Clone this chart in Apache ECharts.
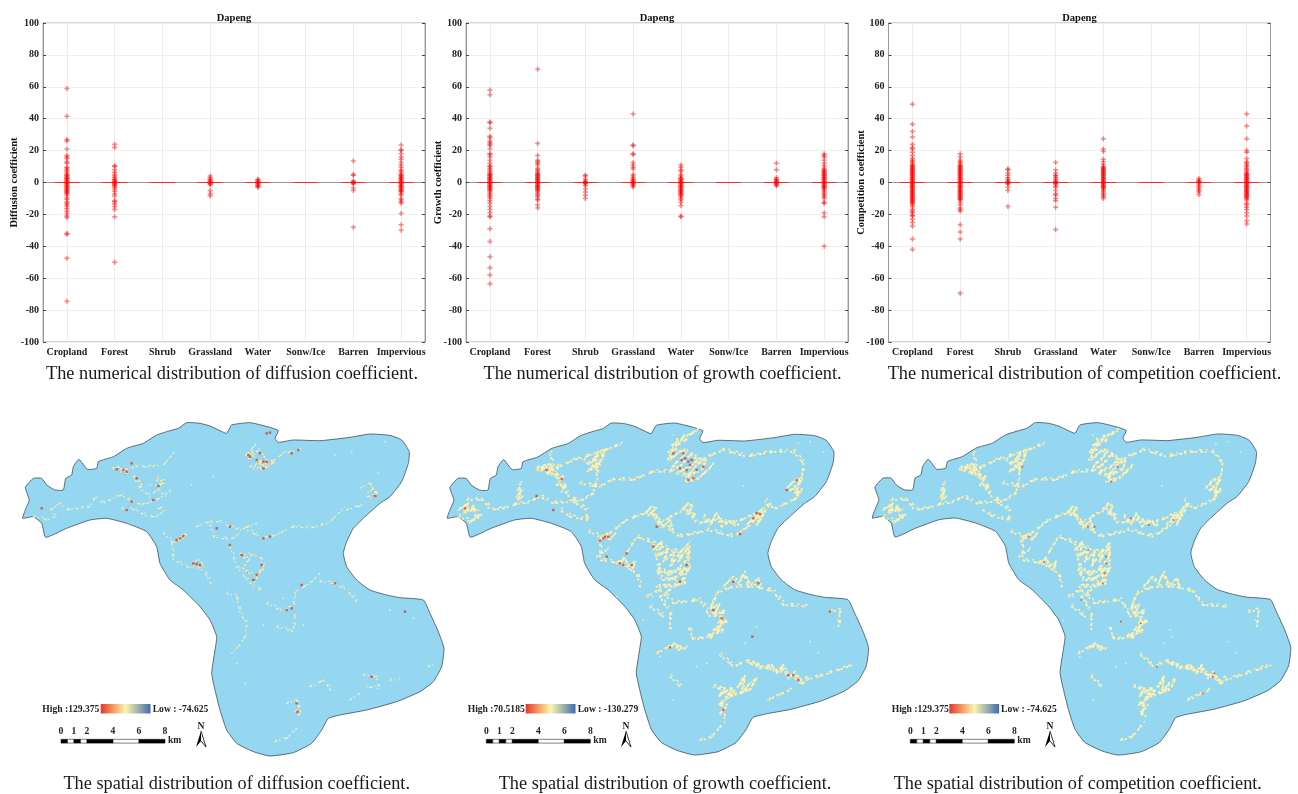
<!DOCTYPE html>
<html><head><meta charset="utf-8">
<script src="https://cdn.jsdelivr.net/npm/echarts@6/dist/echarts.min.js"></script>
<style>html,body{margin:0;padding:0;background:#fff}#c{width:1298px;height:794px;filter:blur(.4px)}</style>
</head><body><div id="c"></div>
<script>
const landCovers=['Cropland','Forest','Shrub','Grassland','Water','Sonw/Ice','Barren','Impervious'];
const yTicks={min:-100,max:100,interval:20};

const diffusionValues=[
 [59,41.5,27,26,21,17,16,15,13,12,9.5,9,8,7,6,5,4.5,4,3.5,3,2.5,2,1.5,1,.5,0,-.5,-1,-1.5,-2,-2.5,-3,-3.5,-4,-4.5,-5,-5.5,-6,-6.5,-7,-8,-9.5,-10.5,-12,-13,-14,-15,-16.5,-18,-19.5,-21,-22,-32,-32.5,-47.5,-74.5],
 [24,22,10.5,10,8,6.5,5,4,3,2,1.5,1,.5,0,-.5,-1,-1.5,-2,-3,-4,-5.5,-7,-8.5,-11.5,-12,-13.5,-15,-17,-21.5,-50],
 [],
 [4,3,2,1.5,1,.5,0,-.5,-1,-1.5,-5,-7,-8.5],
 [2,1.5,1,.5,0,-.5,-1,-1.5,-2,-2.5,-3],
 [],
 [13.5,5,4.5,1,.5,0,-.5,-1,-3.5,-5,-28],
 [23.5,20.5,20,18,16,14.5,12.5,11,9.5,8,7,6,5,4.5,4,3.5,3,2.5,2,1.5,1,.5,0,-.5,-1,-1.5,-2,-2.5,-3,-3.5,-4,-4.5,-5,-5.5,-6,-7,-8,-10,-11,-12,-13,-19.5,-26.5,-30]
];
const growthValues=[
 [58,55,38,37.5,34,29,28,26,25,24,23,21,18,17.5,16,14,12,10.5,10,9,8,7,6,5.5,5,4.5,4,3.5,3,2.5,2,1.5,1,.5,0,-.5,-1,-1.5,-2,-2.5,-3,-3.5,-4,-4.5,-5,-6,-7,-8,-9,-10,-11.5,-13,-15,-17,-19,-21,-21.5,-29,-37,-46.5,-53.5,-58,-63.5],
 [71,24.5,17,14,13,12,11,9,8,7,6,5.5,5,4.5,4,3.5,3,2.5,2,1.5,1,.5,0,-.5,-1,-1.5,-2,-2.5,-3,-3.5,-4,-4.5,-5,-6,-7,-8,-9,-10.5,-11,-14,-16],
 [4.5,4,2,1,.5,0,-.5,-1,-2,-4,-6,-8,-10],
 [43,23.5,23,18,17.5,12.5,11,9.5,8.5,5,4,3,2,1.5,1,.5,0,-.5,-1,-1.5,-2,-3],
 [11,9.5,8,7,5,4,3,2.5,2,1.5,1,.5,0,-.5,-1,-1.5,-2,-2.5,-3,-3.5,-4,-4.5,-5,-5.5,-6,-6.5,-7,-7.5,-8,-9,-10,-11,-12.5,-14.5,-21,-21.5],
 [],
 [12,8,3,2,1.5,1,.5,0,-.5,-1,-1.5,-2],
 [18,17,16,14,12,10.5,9,8,7.5,7,6.5,6,5.5,5,4.5,4,3.5,3,2.5,2,1.5,1,.5,0,-.5,-1,-1.5,-2,-2.5,-3,-3.5,-4,-5,-6,-7,-8,-9,-10,-12.5,-13,-19,-21.5,-40]
];
const competitionValues=[
 [49,36.5,32,28.5,24,22,21,19,17,15,14,13,12,11,10.5,10,9.5,9,8.5,8,7.5,7,6.5,6,5.5,5,4.5,4,3.5,3,2.5,2,1.5,1,.5,0,-.5,-1,-1.5,-2,-2.5,-3,-3.5,-4,-4.5,-5,-5.5,-6,-6.5,-7,-7.5,-8,-8.5,-9,-9.5,-10,-10.5,-11,-11.5,-12,-12.5,-13,-14,-15,-17,-18,-19,-20.5,-21,-23,-25,-27.5,-35.5,-42],
 [18,16,14,13,12,11,10.5,10,9.5,9,8.5,8,7.5,7,6.5,6,5.5,5,4.5,4,3.5,3,2.5,2,1.5,1,.5,0,-.5,-1,-1.5,-2,-2.5,-3,-3.5,-4,-4.5,-5,-5.5,-6,-6.5,-7,-7.5,-8,-8.5,-9,-9.5,-10,-10.5,-11,-12.5,-14,-16,-17,-18,-26.5,-31,-35.5,-69.5],
 [8.5,8,6,4.5,3,2,1,.5,0,-.5,-1,-3,-5,-15],
 [12.5,8,6,4.5,4,3,2,1,.5,0,-.5,-1,-2,-3,-5,-7,-8,-10,-11.5,-15.5,-29.5],
 [27.5,21,19.5,14.5,13,11.5,10,9.5,9,8.5,8,7.5,7,6.5,6,5.5,5,4.5,4,3.5,3,2.5,2,1.5,1,.5,0,-.5,-1,-1.5,-2,-2.5,-3,-3.5,-4,-5,-6,-7,-8,-9,-10],
 [],
 [2.5,1.5,1,.5,0,-1,-2,-3,-4,-5,-6,-7.5],
 [43,35.5,27.5,20,19,15,13,12,11,10,9,8,7,6,5.5,5,4.5,4,3.5,3,2.5,2,1.5,1,.5,0,-.5,-1,-1.5,-2,-2.5,-3,-3.5,-4,-4.5,-5,-5.5,-6,-6.5,-7,-7.5,-8,-8.5,-9,-9.5,-10,-11,-13,-14,-15.5,-17,-19,-21,-24,-26]
];
const medians=[0,0,0,0,0,0,0,0];
const yNames=['Diffusion coefficient','Growth coefficient','Competition coefficient'];
const plotTitle='Dapeng';
const numericCaptions=['The numerical distribution of diffusion coefficient.','The numerical distribution of growth coefficient.','The numerical distribution of competition coefficient.'];
const spatialCaptions=['The spatial distribution of diffusion coefficient.','The spatial distribution of growth coefficient.','The spatial distribution of competition coefficient.'];
const highLabels=['High :129.375','High :70.5185','High :129.375'];
const lowLabels=['Low : -74.625','Low : -130.279','Low : -74.625'];
const scaleLabels=[0,1,2,4,6,8];
const scaleBreaks=[0,.5,1,1.5,2,4,6,8];

const coastline=[[68,325],[74,305],[80,290],[88,270],[76,232],[100,205],[125,205],[140,225],[165,240],[190,240],[197,205],[215,195],[220,170],[237,148],[262,178],[290,175],[295,155],[340,140],[380,115],[395,110],[430,100],[470,75],[510,62],[535,55],[560,38],[600,40],[630,48],[660,62],[680,70],[695,45],[750,38],[810,52],[835,62],[825,85],[835,97],[880,90],[960,92],[1050,82],[1110,72],[1170,76],[1205,90],[1228,125],[1225,160],[1205,215],[1170,260],[1140,280],[1090,325],[1060,355],[1040,395],[1030,430],[1040,470],[1070,510],[1110,540],[1160,555],[1200,563],[1270,570],[1290,610],[1315,665],[1332,715],[1325,770],[1300,815],[1260,845],[1190,875],[1100,900],[1020,915],[985,925],[965,960],[935,1000],[880,1028],[810,1038],[760,1025],[710,1000],[680,960],[660,900],[645,840],[635,790],[645,720],[650,680],[630,630],[600,590],[550,540],[510,510],[480,460],[470,410],[440,365],[380,340],[320,325],[270,330],[200,355],[137,382],[125,340],[100,320]];

const diffusionTrails=[
[[100,320],[140,330],[165,320],[150,300],[180,280],[200,300],[235,295],[270,290],[285,260],[310,280],[340,265],[365,255],[395,275],[430,285],[470,270],[515,240]],
[[335,178],[375,180],[410,170],[450,170],[490,165],[520,130]],[[400,200],[420,235],[450,260],[470,240],[500,260]],[[470,210],[490,225],[450,225]],
[[365,295],[410,300],[440,320],[470,320],[495,300],[475,295]],[[590,350],[630,335],[660,335],[690,350],[720,360],[770,340]],
[[730,355],[790,385],[830,375],[880,350],[930,355],[985,340],[1030,295]],[[1040,300],[1090,285]],[[630,345],[640,380],[690,390],[720,370]],
[[490,370],[520,400],[550,375]],[[515,400],[520,450],[560,470],[610,480],[635,525]],[[690,410],[710,470],[750,520],[780,540]],[[720,430],[780,440],[790,480]],
[[680,550],[710,560],[720,610],[740,640],[735,680],[715,710],[695,730]],[[800,580],[840,600],[880,590],[885,545],[930,520],[960,490]],
[[960,515],[1000,520],[1040,540],[1070,575]],[[830,650],[880,665],[885,610]],[[1080,235],[1110,220],[1130,255],[1100,260]],[[825,995],[860,985],[895,950]],
[[860,880],[890,870],[900,920]],[[1090,795],[1130,800],[1135,835],[1100,830]],[[1170,810],[1195,810]],[[1050,870],[1080,850]],[[930,830],[945,825],[970,810],[1000,850]],
[[735,140],[770,100]],[[750,170],[810,160],[850,130],[900,120]],[[740,130],[800,175]],[[1285,770],[1300,765]]
];
const diffusionPatches=[
[[335,178],[350,172],[365,188],[385,175],[375,195]],[[735,140],[755,125],[745,150],[775,120],[790,145],[765,165],[800,150],[820,160],[790,178],[760,175]],
[[1100,250],[1115,240],[1130,258],[1110,265]],[[530,395],[545,375],[558,380],[540,392]],[[575,460],[590,452],[610,470],[590,475]],[[885,880],[897,890],[885,905],[900,920]],
[[400,205],[415,215],[425,240]],[[470,205],[490,215],[475,235]],[[720,435],[745,450],[725,480],[770,500],[790,465],[760,520]]
];
const diffusionSpots=[[800,70],[810,68],[745,135],[780,130],[790,155],[800,155],[770,150],[790,175],[875,130],[895,120],[370,180],[350,178],[380,185],[395,160],[410,205],[460,270],[475,228],[380,300],[395,275],[125,295],[540,385],[550,378],[530,390],[580,460],[600,465],[590,462],[690,350],[790,385],[810,380],[690,405],[725,435],[785,465],[770,495],[760,510],[1005,520],[860,600],[875,595],[905,525],[890,880],[893,905],[1115,800],[1125,258],[1215,605],[650,355],[750,140]];
const diffusionSpecks=[[575,225],[640,200],[1055,125],[1005,135],[1155,95],[1135,190],[735,820],[850,565],[1170,600],[1240,625],[710,760],[990,840],[910,645],[790,645]];

// growth and competition maps mark the same land cells, read on the growth map's frame
const sharedTrails=[
[[55,320],[90,335],[120,320],[100,290],[75,300]],[[80,270],[130,270],[150,300],[190,295],[240,280],[260,280],[300,260],[340,280],[400,275],[440,300],[440,330],[390,320],[360,300]],
[[240,220],[235,270]],[[480,230],[520,208],[580,210],[640,185],[690,185]],[[290,180],[340,180],[360,220],[390,265],[420,275],[460,250],[470,200],[470,130]],
[[330,130],[340,180],[400,150],[470,130],[550,100]],[[420,220],[470,230]],[[780,150],[850,120],[920,140],[1000,125],[1060,125]],
[[1060,125],[1090,160],[1085,200],[1070,230],[1070,265],[1010,295],[980,285],[975,270]],[[445,365],[490,385],[560,330],[630,305],[660,340],[710,310],[740,300],[770,340],[830,330],[880,340],[950,310],[985,285]],
[[480,390],[480,450],[540,460],[590,380],[640,400],[720,430],[745,400],[745,480],[720,520]],[[640,400],[655,470],[690,500],[720,520],[660,560],[690,610],[690,660]],
[[540,460],[590,490],[600,530]],[[800,360],[880,380],[940,340]],[[660,340],[720,380],[790,365]],[[830,550],[880,530],[950,530],[1000,545],[1030,585],[1100,590]],
[[830,550],[810,600],[850,640],[810,680],[760,690],[745,650]],[[650,730],[690,710],[730,715]],[[840,735],[880,770],[920,755],[980,775],[1040,790],[1090,820]],
[[1100,810],[1150,795],[1240,765]],[[690,800],[720,830]],[[985,870],[1050,840]],[[780,990],[810,985],[850,940]],[[1170,605],[1200,600],[1195,650]],
[[620,560],[660,540],[700,580],[780,570],[810,620]],[[500,420],[470,440]],[[630,590],[670,620]]
];
const sharedPatches=[
[[770,62],[745,78],[725,82],[735,95],[705,92],[715,110],[695,105],[705,125],[685,125],[695,145],[680,150]],
[[690,150],[720,125],[740,122],[725,145],[700,165],[690,185],[720,170],[750,135],[775,150],[745,175],[710,190],[740,200],[770,165],[795,150],[785,180],[750,195],[735,215],[770,210],[810,175],[815,165]],
[[290,175],[310,170],[300,185],[325,165],[335,185],[315,190],[345,195],[350,170]],[[345,200],[365,205],[350,225],[375,230],[365,245]],
[[430,150],[450,165],[470,130],[455,175],[485,150],[490,120],[475,170],[440,185]],[[1040,235],[1060,215],[1085,205],[1075,225],[1050,240],[1070,250],[1085,240],[1065,265]],
[[615,310],[630,295],[645,300],[625,315],[645,320]],[[725,300],[740,285],[755,295],[740,310],[765,320]],[[920,345],[945,320],[935,340],[965,305],[950,345],[985,285]],
[[640,420],[660,400],[655,440],[680,420],[670,455],[700,430],[690,470],[725,420],[715,455],[745,410],[740,450],[710,480],[745,480],[680,490],[650,480],[665,510],[700,510],[720,490],[735,520],[690,530],[650,530]],
[[820,570],[810,600],[835,585],[820,620],[850,605],[835,640],[860,635],[820,660],[845,665],[800,680],[825,685]],
[[850,530],[875,505],[895,520],[910,490],[925,530],[950,510],[960,535]],
[[820,830],[850,840],[835,860],[875,835],[850,875],[895,830],[910,800],[905,850],[925,825],[945,810],[930,840],[870,860],[835,885],[860,890],[840,910],[855,925]],
[[920,755],[960,775],[990,770],[1010,790],[1025,770],[1045,805],[1060,790],[1085,825],[1095,805]],
[[530,460],[550,450],[560,470],[580,460],[575,480]],[[475,395],[495,375],[510,390],[525,370]],[[55,300],[80,285],[70,310],[100,300],[110,325],[85,340]],[[680,715],[700,705],[715,720],[735,715]],
[[790,320],[810,345],[825,315],[845,350],[870,335],[890,350]],[[645,325],[665,355],[685,335],[695,365]],[[232,240],[242,245],[228,262],[245,265]]
];
const growthSpots=[[365,207],[340,300],[75,295],[490,385],[505,380],[500,440],[540,460],[575,465],[560,430],[730,130],[745,155],[700,130],[740,180],[790,170],[745,210],[760,205],[1070,210],[950,310],[960,312],[940,325],[900,372],[650,350],[740,465],[690,712],[937,680],[1170,605],[1060,795],[1075,810],[850,900],[720,515],[880,515],[955,520],[820,600],[640,410],[290,258],[725,150],[755,150],[770,180],[720,175],[320,180],[495,380],[480,392],[550,465],[735,145],[750,165],[845,625],[1045,795],[1040,240]];
const growthSpecks=[[910,228],[1135,728],[1110,695],[700,75],[1075,100],[1110,95],[1150,125],[610,630],[770,770],[700,870],[640,560],[950,650],[1000,860],[915,700],[1195,630],[250,240],[530,560],[660,740],[800,760]];
const competitionSpots=[[480,170],[680,350],[735,440],[730,490],[725,520],[810,325],[865,345],[940,330],[660,570],[890,770],[1030,850],[780,635],[500,380],[770,170],[750,215],[680,420],[1065,790],[545,455],[700,350],[735,460],[1060,800],[840,640]];
const competitionSpecks=[[905,228],[1130,728],[1105,695],[695,75],[1070,100],[1105,95],[1145,125],[605,630],[765,770],[695,870],[635,560],[935,680],[995,860],[910,700],[1190,630],[245,240],[525,560],[655,740],[795,760],[930,660]];

const valueSets=[diffusionValues,growthValues,competitionValues];
const trailSets=[diffusionTrails,sharedTrails,sharedTrails];
const patchSets=[diffusionPatches,sharedPatches,sharedPatches];
const spotSets=[diffusionSpots,growthSpots,competitionSpots];
const speckSets=[diffusionSpecks,growthSpecks,competitionSpecks];

const plotLeft=[43,466,888.5],plotWidth=382,plotTop=23,plotHeight=319;
const coastGrid=[{left:0,top:410,width:450,height:384},{left:424.6,top:410.4,width:450,height:382.5},{left:849.8,top:410,width:447,height:383}];
const speckGrid=[{left:0,top:410,width:450,height:384},{left:440,top:410,width:440,height:384},{left:865,top:410,width:437.2,height:384}];
const speckOffset=[{left:1.3,top:-1.4},{left:1.6,top:-1.8},{left:1.6,top:-1.8}];
const speckRange=[[1350,1152],[1320,1152],[1320,1152]];
const nameGaps=[23,22,21.5];
const serifBold='bold 9.6px "Liberation Serif"';
const cross='path://M35,0H65V35H100V65H65V100H35V65H0V35H35Z';

const grid=[],xAxis=[],yAxis=[],series=[],title=[],graphic=[];
const labelStyle={fontFamily:'Liberation Serif',fontWeight:'bold',fontSize:10,color:'#222'};
for(let i=0;i<3;i++){
  grid.push({left:plotLeft[i],top:plotTop,width:plotWidth,height:plotHeight,show:true,borderColor:'#a8a8a8',borderWidth:1,backgroundColor:'#fff'});
  xAxis.push({type:'category',gridIndex:i,data:landCovers,position:'bottom',
    axisLine:{lineStyle:{color:'#999'}},axisTick:{alignWithLabel:true,inside:true,length:3,lineStyle:{color:'#444'}},
    axisLabel:{...labelStyle,interval:0,margin:5,hideOverlap:false},
    splitLine:{show:true,alignWithLabel:true,interval:0,lineStyle:{color:'#ececec',width:1}}});
  yAxis.push({type:'value',gridIndex:i,...yTicks,position:'left',
    axisLine:{show:true,lineStyle:{color:'#999'}},axisTick:{show:true,inside:true,length:3,lineStyle:{color:'#444'}},
    axisLabel:{...labelStyle,margin:4},splitLine:{show:true,lineStyle:{color:'#efefef',width:1}},
    name:yNames[i],nameLocation:'middle',nameRotate:90,nameGap:nameGaps[i],nameMoveOverlap:false,
    nameTextStyle:{fontFamily:'Liberation Serif',fontWeight:'bold',fontSize:10.5,color:'#111'}});
}
for(let i=0;i<3;i++){
  xAxis.push({type:'category',gridIndex:i,data:landCovers,position:'top',
    axisLine:{show:true,lineStyle:{color:'#999'}},axisTick:{alignWithLabel:true,inside:true,length:3,lineStyle:{color:'#444'}},axisLabel:{show:false},splitLine:{show:false},
    name:plotTitle,nameLocation:'middle',nameGap:-1,nameMoveOverlap:false,nameTextStyle:{fontFamily:'Liberation Serif',fontWeight:'bold',fontSize:10.5,color:'#111'}});
  yAxis.push({type:'value',gridIndex:i,...yTicks,position:'right',
    axisLine:{show:true,lineStyle:{color:'#999'}},axisTick:{show:true,inside:true,length:3,lineStyle:{color:'#444'}},axisLabel:{show:false},splitLine:{show:false}});
}
function mapAxes(g,range){
  const idx=grid.length;grid.push(g);
  xAxis.push({type:'value',gridIndex:idx,min:0,max:range[0],show:false});
  yAxis.push({type:'value',gridIndex:idx,min:0,max:range[1],inverse:true,show:false});
}
coastGrid.forEach(g=>mapAxes(g,[1350,1152]));
speckGrid.forEach((g,i)=>mapAxes(g,speckRange[i]));
speckGrid.forEach((g,i)=>mapAxes({...g,left:g.left+speckOffset[i].left,top:g.top+speckOffset[i].top},speckRange[i]));

for(let i=0;i<3;i++){
  const pts=[];valueSets[i].forEach((vals,c)=>vals.forEach(v=>pts.push([c,v])));
  series.push({type:'boxplot',xAxisIndex:i,yAxisIndex:i,silent:true,boxWidth:[24,24],
    itemStyle:{color:'rgba(0,0,0,0)',borderColor:'rgba(255,40,40,.8)',borderWidth:1},
    data:medians.map(m=>[m,m,m,m,m])});
  series.push({type:'scatter',xAxisIndex:i,yAxisIndex:i,silent:true,symbol:cross,symbolSize:5,
    itemStyle:{color:'rgba(255,0,0,.6)'},data:pts,z:3});
}
for(let i=0;i<3;i++){
  series.push({type:'custom',xAxisIndex:6+i,yAxisIndex:6+i,silent:true,clip:false,data:coastline,
    encode:{x:0,y:1},
    renderItem(p,api){
      if(p.dataIndex!==0)return null;
      return {type:'polygon',shape:{points:coastline.map(c=>api.coord(c)),smooth:.15},
        style:{fill:'#95d7f1',stroke:'#2b3a40',lineWidth:.7}};
    }});
  const ax=9+i,ax2=12+i;
  const toLines=a=>a.map(c=>({coords:c}));
  const lineSeries=(data,lineStyle,z,axis)=>({type:'lines',coordinateSystem:'cartesian2d',xAxisIndex:axis,yAxisIndex:axis,polyline:true,silent:true,z,data:toLines(data),lineStyle:{opacity:1,cap:'round',join:'round',...lineStyle}});
  const w=i===0?1.2:2;
  series.push(lineSeries(patchSets[i],{color:'#faf2b4',width:w,type:[1.2,3.4,2.2,4.6,.6,2.8]},3,ax));
  series.push(lineSeries(patchSets[i],{color:'#faf2b4',width:w,type:[.6,5,1.4,2.6,2.4,3.6]},3,ax2));
  series.push(lineSeries(trailSets[i],{color:'#faf2b4',width:w,type:[1.5,3.2,.5,5.6,2.5,2.4,.8,4.4]},3,ax));
  series.push(lineSeries(trailSets[i],{color:'#faf2b4',width:i===0?.9:1.5,type:[.5,7,1.6,4,.4,9,2,5]},3,ax2));
  if(i>0)series.push(lineSeries(trailSets[i].concat(patchSets[i]),{color:i===1?'#ef9a5e':'#f3b878',width:1.3,type:[.6,11,.6,7],cap:'butt'},4,ax));
  else series.push(lineSeries(patchSets[i],{color:'#e8734a',width:1.3,type:[.8,6],cap:'butt'},4,ax));
  series.push({type:'scatter',xAxisIndex:ax,yAxisIndex:ax,silent:true,z:4,symbol:'rect',symbolSize:1.6,itemStyle:{color:'#faf2b4'},data:speckSets[i]});
  series.push({type:'scatter',xAxisIndex:ax,yAxisIndex:ax,silent:true,z:5,symbol:'rect',symbolSize:i===2?1.7:2.4,itemStyle:{color:'#d4402c'},data:spotSets[i]});
}

const capTop=[[232,374],[662.5,374],[1084.5,374]],capBot=[[236.7,784],[665,784],[1077.8,784]];
function cap(t,p){title.push({text:t,left:p[0],top:p[1],textAlign:'center',textVerticalAlign:'middle',padding:0,
  textStyle:{fontFamily:'Liberation Serif',fontWeight:'normal',fontSize:18.3,color:'#1a1a1a'}});}
numericCaptions.forEach((t,i)=>cap(t,capTop[i]));
spatialCaptions.forEach((t,i)=>cap(t,capBot[i]));

const legendX=[100.7,525.7,949.3],highX=[42.3,467.7,891.7],lowX=[152.7,577.7,1001],barX=[61,486.3,910.3],arrowX=[201,626,1050];
const txt=(text,x,y,align)=>({type:'text',style:{text,x,y,align:align||'left',verticalAlign:'middle',font:serifBold,fill:'#222'},silent:true});
for(let i=0;i<3;i++){
  graphic.push({type:'rect',shape:{x:legendX[i],y:704,width:49.8,height:9.5},silent:true,
    style:{fill:new echarts.graphic.LinearGradient(0,0,1,0,[{offset:0,color:'#e2382b'},{offset:.28,color:'#f8a56a'},{offset:.5,color:'#fbf5b2'},{offset:.72,color:'#a9bda8'},{offset:1,color:'#3f6cb2'}])}});
  graphic.push(txt(highLabels[i],highX[i],709.5));
  graphic.push(txt(lowLabels[i],lowX[i],709.5));
  const unit=13;
  for(let s=0;s<scaleBreaks.length-1;s++){
    graphic.push({type:'rect',silent:true,shape:{x:barX[i]+scaleBreaks[s]*unit,y:739.3,width:(scaleBreaks[s+1]-scaleBreaks[s])*unit,height:3.8},
      style:{fill:s%2?'#fff':'#000',stroke:'#000',lineWidth:.5}});
  }
  scaleLabels.forEach(v=>graphic.push(txt(String(v),barX[i]+v*unit,732,'center')));
  graphic.push(txt('km',barX[i]+107,740.5));
  const ax=arrowX[i];
  graphic.push(txt('N',ax,727,'center'));
  graphic.push({type:'polygon',silent:true,shape:{points:[[ax,731],[ax-5,747],[ax,741]]},style:{fill:'#000'}});
  graphic.push({type:'polyline',silent:true,shape:{points:[[ax,731],[ax+5,747],[ax,741]]},style:{stroke:'#000',lineWidth:.8,fill:'none'}});
}

const chart=echarts.init(document.getElementById('c'),null,{renderer:'canvas',width:1298,height:794});
chart.setOption({animation:false,backgroundColor:'#fff',tooltip:{show:false},grid,xAxis,yAxis,series,title,graphic});
</script></body></html>
